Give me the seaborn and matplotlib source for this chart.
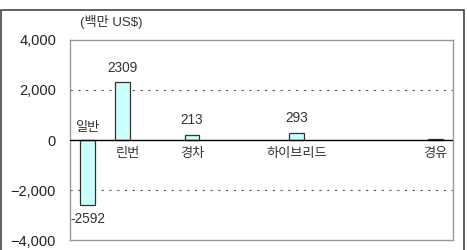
import matplotlib
matplotlib.use("Agg")
import matplotlib.pyplot as plt
import seaborn as sns
import pandas as pd
from matplotlib.patches import Rectangle

categories = ["일반", "린번", "경차", "하이브리드", "경유"]
slots = [0, 1, 3, 6, 10]
values = [-2592, 2309, 213, 293, 40]
value_labels = ["-2592", "2309", "213", "293", ""]
yticks = [-4000, -2000, 0, 2000, 4000]
ytick_labels = ["\u22124,000", "\u22122,000", "0", "2,000", "4,000"]
unit_label = "(백만 US$)"

sns.set_style("white")
plt.rcParams['font.family'] = ['Liberation Sans', 'Noto Sans CJK KR', 'DejaVu Sans']

fig = plt.figure(figsize=(4.67, 2.5), dpi=100)
ax = fig.add_axes([70/467, 10/250, 383/467, 200/250])

df = pd.DataFrame({"slot": slots, "value": values})
sns.barplot(data=df, x="slot", y="value", native_scale=True, width=0.42,
            color="#ccffff", edgecolor="#333333", linewidth=0.9, ax=ax, zorder=3)
for p in ax.patches:
    p.set_facecolor("#ccffff")

ax.set_xlim(-0.5, 10.5)
ax.set_ylim(-4000, 4000)
ax.set_yticks(yticks)
ax.set_yticklabels(ytick_labels, fontsize=10.5, color="#222222")
ax.set_xticks([])
ax.set_xlabel("")
ax.set_ylabel("")
ax.tick_params(axis='y', length=0, pad=10)

for y in [2000, -2000]:
    ax.axhline(y, color="#555555", linestyle=(0, (2, 5)), linewidth=0.8, zorder=1)
ax.axhline(0, color="black", linewidth=1.0, zorder=4)

for s in ax.spines.values():
    s.set_color("#999999")
    s.set_linewidth(1.0)

# value labels
for s, v, lab in zip(slots, values, value_labels):
    if not lab:
        continue
    if v >= 0:
        ax.text(s, v + 300, lab, ha="center", va="bottom", fontsize=9.8, color="#333333")
    else:
        ax.text(s + 0.02, v - 300, lab, ha="center", va="top", fontsize=9.8, color="#333333")

# category labels
for s, v, c in zip(slots, values, categories):
    if v < 0:
        ax.text(s, 220, c, ha="center", va="bottom", fontsize=9.5, color="#333333")
    else:
        ax.text(s + (0.15 if s == 1 else 0), -330, c, ha="center", va="top", fontsize=9.5, color="#333333")

fig.text(80/467, 1 - 22/250, unit_label, ha="left", va="center", fontsize=9.5, color="#333333")

fig.patches.append(Rectangle((1/467, -0.1), 463/467, 1.1 - 10/250, transform=fig.transFigure,
                             fill=False, edgecolor="#444444", linewidth=1.2))

fig.savefig("out.png", dpi=100)
